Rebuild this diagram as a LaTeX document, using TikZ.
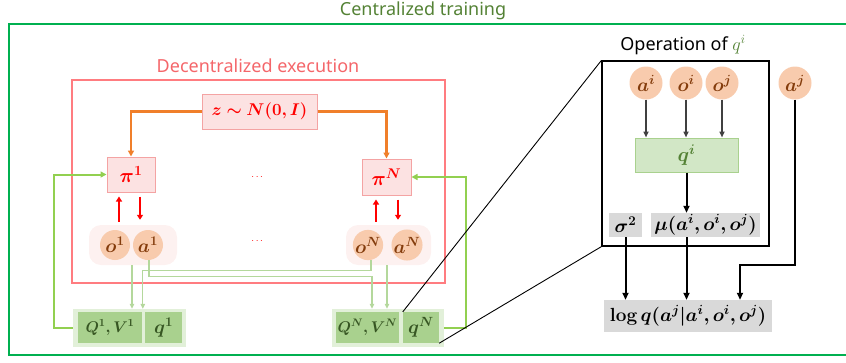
\RequirePackage{fix-cm}
\documentclass[tikz,border=0pt]{standalone}
\usepackage[no-math]{fontspec}
\usepackage{amsmath,bm}
\setmainfont{Noto Sans}
\usetikzlibrary{arrows.meta}

\definecolor{framegreen}{HTML}{00B050}
\definecolor{titlegreen}{HTML}{548235}
\definecolor{decred}{HTML}{FF7C80}
\definecolor{dectext}{HTML}{F4666A}
\definecolor{zfill}{HTML}{FCE2E2}
\definecolor{zline}{HTML}{F4A3A3}
\definecolor{pathorange}{HTML}{F07F2A}
\definecolor{peach}{HTML}{F8CBAD}
\definecolor{peachtext}{HTML}{843C0C}
\definecolor{pairfill}{HTML}{FDF1F0}
\definecolor{grpfill}{HTML}{E2F0D9}
\definecolor{qfill}{HTML}{A9D18E}
\definecolor{qtext}{HTML}{375623}
\definecolor{loopgreen}{HTML}{92D050}
\definecolor{feedgreen}{HTML}{B4D89C}
\definecolor{qifill}{HTML}{D2E7C6}
\definecolor{boxgray}{HTML}{D9D9D9}

\newcommand\titlesize{\fontsize{18}{21}\selectfont}
\newcommand\mathsize{\fontsize{17}{20}\selectfont}
\newcommand\pisize{\fontsize{20}{24}\selectfont}
\newcommand\qsize{\fontsize{15.5}{18}\selectfont}
\newcommand\circsize{\fontsize{19}{22}\selectfont}
\newcommand\opsize{\fontsize{19}{22}\selectfont}
\newcommand\circdiam{30pt}
\newcommand\opdiam{33pt}

\begin{document}
\begin{tikzpicture}[x=1pt,y=-1pt,
    redbox/.style={draw=zline,fill=zfill,line width=1pt,inner sep=0pt,text=red,font=\mathsize},
    pairbg/.style={fill=pairfill,rounded corners=12pt,minimum height=40pt,inner sep=0pt},
    obs/.style={circle,fill=peach,minimum size=\circdiam,inner sep=0pt,text=peachtext,font=\circsize},
    grpbg/.style={fill=grpfill,minimum height=38pt,inner sep=0pt},
    qbox/.style={fill=qfill,minimum height=31pt,inner sep=0pt,text=qtext,font=\qsize},
    graybox/.style={fill=boxgray,inner sep=0pt,font=\opsize},
    orangearrow/.style={pathorange,line width=2.2pt,-{Triangle[length=6pt,width=6pt]}},
    redarrow/.style={red,line width=2pt,-{Triangle[length=5pt,width=6pt]}},
    feedarrow/.style={feedgreen,line width=1.2pt,-{Triangle[length=5pt,width=4.5pt]}},
    looparrow/.style={loopgreen,line width=2pt,-{Triangle[length=6pt,width=6pt]}},
    opcirc/.style={circle,fill=peach,minimum size=\opdiam,inner sep=0pt,text=peachtext,font=\opsize},
    grayarrow/.style={black!75,line width=1.5pt,-{Triangle[length=6pt,width=5pt]}},
    blackarrow/.style={black,line width=2pt,-{Triangle[length=7pt,width=6pt]}}]

    \useasboundingbox (0,0) rectangle (846,362);

    \node[font=\titlesize,text=titlegreen] (ctitle) at (423,11) {Centralized training};
    \draw[framegreen,line width=2pt] (848,24) -- (9,24) -- (9,355) -- (848,355);

    \node[draw=decred,line width=1.5pt,minimum width=373pt,minimum height=203pt] (dec) at (258.5,181.5) {};
    \node[font=\titlesize,text=dectext] (dectitle) at (258,66) {Decentralized execution};

    \node[redbox,minimum width=115pt,minimum height=35pt] (zbox) at (259.5,111.5) {$\bm{z\sim N(0,I)}$};
    \node[redbox,font=\pisize,minimum width=48pt,minimum height=35pt] (pi1) at (131,174.5) {$\bm{\pi^1}$};
    \node[redbox,font=\pisize,minimum width=49pt,minimum height=36pt] (piN) at (386.5,177) {$\bm{\pi^N}$};
    \node[text=red] (dotspi) at (258,177) {$\cdots$};

    \draw[orangearrow] (zbox.west) -| (pi1.north);
    \draw[orangearrow] (zbox.east) -| (piN.north);

    \node[pairbg,minimum width=88pt] (pair1) at (133,245) {};
    \node[pairbg,minimum width=85pt] (pairN) at (388.5,245) {};
    \node[obs] (o1) at (115,245) {$\bm{o^1}$};
    \node[obs] (a1) at (148,245) {$\bm{a^1}$};
    \node[obs] (oN) at (368,245) {$\bm{o^N}$};
    \node[obs] (aN) at (407,245) {$\bm{a^N}$};
    \node[text=red] (dotsoa) at (258,241) {$\cdots$};

    \draw[redarrow] ([xshift=-14pt,yshift=3pt]pair1.north) -- ([xshift=-14pt,yshift=-4pt]pair1.north |- pi1.south);
    \draw[redarrow] ([xshift=7pt,yshift=-4pt]pair1.north |- pi1.south) -- ([xshift=7pt,yshift=5pt]pair1.north);
    \draw[redarrow] ([xshift=-12.5pt,yshift=3pt]pairN.north) -- ([xshift=-12.5pt,yshift=-4pt]pairN.north |- piN.south);
    \draw[redarrow] ([xshift=9.5pt,yshift=-4pt]pairN.north |- piN.south) -- ([xshift=9.5pt,yshift=5pt]pairN.north);

    \node[grpbg,minimum width=113pt] (grp1) at (129.5,328) {};
    \node[qbox,minimum width=64pt] (Q1) at (110,327.5) {$\bm{Q^1,V^1}$};
    \node[qbox,font=\circsize,minimum width=37pt] (q1) at (163.5,327.5) {$\bm{q^1}$};
    \node[grpbg,minimum width=112pt] (grpN) at (388,328) {};
    \node[qbox,minimum width=63pt] (QN) at (367.5,327.5) {$\bm{Q^N,V^N}$};
    \node[qbox,font=\circsize,minimum width=36pt] (qN) at (421,327.5) {$\bm{q^N}$};

    \draw[feedarrow] ([xshift=-1pt]pair1.south) -- ([xshift=-1pt]pair1.south |- grp1.north);
    \draw[feedarrow] ([xshift=-1.5pt]pairN.south) -- ([xshift=-1.5pt]pairN.south |- grpN.north);
    \draw[feedarrow] ([xshift=3pt]oN.south) -- ++(0,10) -| ([xshift=-2pt]q1.north west |- grp1.north);
    \draw[feedarrow] ([xshift=1pt]a1.south) -- ++(0,16) -| ([xshift=4.5pt]QN.north |- grpN.north);

    \draw[looparrow] (grp1.west) -- ++(-19,0) |- (pi1.west);
    \draw[looparrow] (grpN.east) -- ++(22,0) |- (piN.east);

    \node[draw=black,line width=1.2pt,minimum width=167pt,minimum height=185pt] (opbox) at (685.5,153.5) {};
    \node[font=\titlesize] (optitle) at (683,45) {Operation of \textcolor{titlegreen}{$q^i$}};

    \draw[black,line width=0.9pt] (qN.north west) -- (opbox.north west);
    \draw[black,line width=0.9pt] (qN.south east) -- (opbox.south west);

    \node[opcirc] (ai) at (646,83) {$\bm{a^i}$};
    \node[opcirc] (oi) at (686,83) {$\bm{o^i}$};
    \node[opcirc] (oj) at (722,83) {$\bm{o^j}$};
    \node[opcirc] (aj) at (795,83) {$\bm{a^j}$};

    \node[draw=qfill,fill=qifill,line width=1pt,minimum width=103pt,minimum height=34pt,inner sep=0pt,text=titlegreen,font=\pisize] (qi) at (686.5,155) {$\bm{q^i}$};

    \draw[grayarrow] (ai.south) -- (ai.south |- qi.north);
    \draw[grayarrow] (oi.south) -- (oi.south |- qi.north);
    \draw[grayarrow] (oj.south) -- (oj.south |- qi.north);

    \node[graybox,minimum width=33pt,minimum height=24pt] (sig) at (625.5,225) {$\bm{\sigma^2}$};
    \node[graybox,minimum width=109pt,minimum height=24pt] (mu) at (705.5,225) {$\bm{\mu(a^i,o^i,o^j)}$};
    \node[graybox,minimum width=168pt,minimum height=32pt] (logq) at (688,316) {$\mathbf{log}\,\bm{q(a^j|a^i,o^i,o^j)}$};

    \draw[blackarrow] (qi.south) -- (qi.south |- mu.north);
    \draw[blackarrow] (sig.south) -- (sig.south |- logq.north);
    \draw[blackarrow] (mu.south -| qi.south) -- (qi.south |- logq.north);
    \draw[blackarrow] (aj.south) -- ++(0,165) -| ([xshift=52pt]logq.north);
\end{tikzpicture}
\end{document}
